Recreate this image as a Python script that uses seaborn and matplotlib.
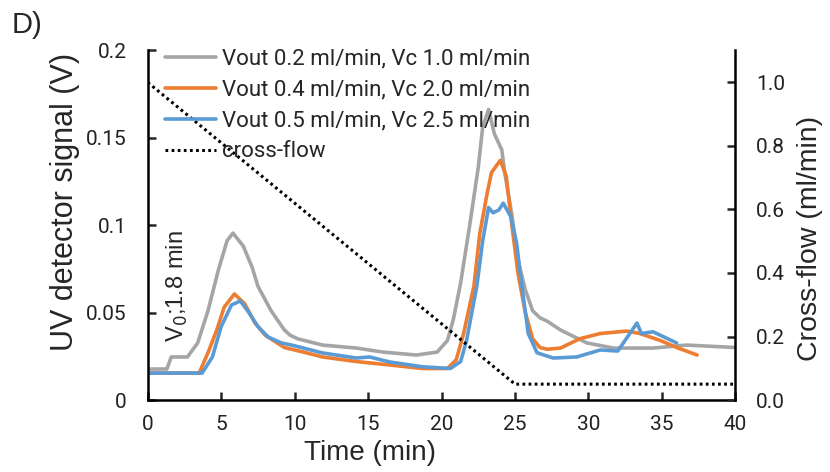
import matplotlib
matplotlib.use('Agg')
import matplotlib.pyplot as plt
from matplotlib import font_manager
import seaborn as sns

# UV traces (time in min, signal in V)
t_gray = [0, 1.3, 1.6, 2.7, 3.4, 4.1, 4.8, 5.4, 5.8, 6.5, 7.1, 7.5, 8.4, 9.3, 9.7, 10.2,
          11.9, 14.2, 16.0, 18.3, 19.7, 20.4, 20.8, 21.3, 21.9, 22.5, 22.8, 23.2, 23.6,
          24.1, 24.3, 24.8, 25.2, 25.7, 26.2, 26.7, 27.2, 28.1, 29.9, 31.7, 34.4, 36.7, 40]
v_gray = [0.0177, 0.0177, 0.0246, 0.0246, 0.0326, 0.051, 0.074, 0.091, 0.0954, 0.088,
          0.076, 0.065, 0.051, 0.040, 0.037, 0.035, 0.0314, 0.0297, 0.0274, 0.0257, 0.0274,
          0.034, 0.046, 0.067, 0.099, 0.133, 0.156, 0.166, 0.152, 0.143, 0.130, 0.105,
          0.080, 0.063, 0.051, 0.047, 0.045, 0.040, 0.0326, 0.0297, 0.0297, 0.0314, 0.030]

t_orange = [0, 3.5, 4.1, 4.7, 5.2, 5.9, 6.6, 7.3, 8.0, 9.3, 10.6, 11.9, 14.2, 16.5, 18.7,
            20.4, 21.0, 21.5, 22.2, 22.6, 23.1, 23.4, 24.0, 24.4, 24.8, 25.2, 25.7, 26.2,
            26.7, 27.2, 28.1, 29.4, 30.8, 32.6, 33.5, 34.9, 36.0, 37.4]
v_orange = [0.0154, 0.0154, 0.027, 0.040, 0.053, 0.0606, 0.055, 0.044, 0.037, 0.030,
            0.0274, 0.0246, 0.022, 0.020, 0.018, 0.018, 0.023, 0.038, 0.065, 0.095, 0.118,
            0.130, 0.137, 0.128, 0.099, 0.0726, 0.050, 0.035, 0.030, 0.029, 0.0297, 0.035,
            0.038, 0.0394, 0.038, 0.034, 0.030, 0.0257]

t_blue = [0, 3.7, 4.4, 5.0, 5.7, 6.3, 6.8, 7.5, 8.2, 9.1, 9.8, 10.6, 11.9, 14.2, 15.1,
          16.5, 18.7, 20.6, 21.3, 21.7, 22.4, 22.8, 23.2, 23.5, 23.9, 24.2, 24.7, 25.1,
          25.5, 25.9, 26.5, 27.6, 29.2, 30.8, 32.0, 33.3, 33.6, 34.4, 35.4, 36.0]
v_blue = [0.0154, 0.0154, 0.0246, 0.042, 0.0543, 0.0566, 0.051, 0.042, 0.036, 0.0326,
          0.0314, 0.0297, 0.0269, 0.024, 0.0246, 0.0217, 0.019, 0.018, 0.022, 0.034, 0.065,
          0.091, 0.110, 0.107, 0.1086, 0.1125, 0.105, 0.090, 0.063, 0.038, 0.027, 0.024,
          0.0246, 0.0286, 0.028, 0.044, 0.038, 0.039, 0.035, 0.0326]

# cross-flow program (ml/min)
t_cf = [0, 25, 40]
cf = [1.0, 0.05, 0.05]

labels = ['Vout 0.2 ml/min, Vc 1.0 ml/min',
          'Vout 0.4 ml/min, Vc 2.0 ml/min',
          'Vout 0.5 ml/min, Vc 2.5 ml/min',
          'cross-flow']
colors = ['#A5A5A5', '#ED7D31', '#5B9BD5']

sns.set_style('white')
plt.rcParams['font.family'] = ['Liberation Sans', 'DejaVu Sans']


def pick_font(names):
    for n in names:
        try:
            font_manager.findfont(n, fallback_to_default=False)
            return n
        except Exception:
            pass
    return 'Liberation Sans'


narrow = pick_font(['Liberation Sans Narrow', 'Roboto'])

fig, ax = plt.subplots(figsize=(8.3, 4.72), dpi=100)
fig.subplots_adjust(left=0.178, right=0.886, bottom=0.1525, top=0.894)
ax2 = ax.twinx()

for t, v, c, lab in zip([t_gray, t_orange, t_blue], [v_gray, v_orange, v_blue], colors, labels):
    sns.lineplot(x=t, y=v, ax=ax, color=c, lw=2.6, label=lab, legend=False)
sns.lineplot(x=t_cf, y=cf, ax=ax2, color='black', lw=2.2, ls=(0, (0.9, 1.1)),
             label=labels[3], legend=False)

ax.set_xlim(0, 40)
ax.set_ylim(0, 0.2)
ax2.set_ylim(0, 1.102)
ax.set_xticks(range(0, 41, 5))
ax.set_yticks([0, 0.05, 0.1, 0.15, 0.2])
ax.set_yticklabels(['0', '0.05', '0.1', '0.15', '0.2'])
ax2.set_yticks([0, 0.2, 0.4, 0.6, 0.8, 1.0])
ax2.set_yticklabels(['0.0', '0.2', '0.4', '0.6', '0.8', '1.0'])

for a in (ax, ax2):
    a.spines['top'].set_visible(False)
    for s in a.spines.values():
        s.set_linewidth(1.8)
        s.set_color('black')
    for lbl in a.get_xticklabels() + a.get_yticklabels():
        lbl.set_fontfamily(narrow)
        lbl.set_fontsize(15)
        lbl.set_color('#222222')
ax.spines['right'].set_visible(False)
ax2.spines['left'].set_visible(False)
ax2.spines['bottom'].set_visible(False)

ax.tick_params(axis='both', direction='in', length=6, width=1.8, left=True, bottom=True)
ax.tick_params(axis='y', pad=15)
ax.tick_params(axis='x', pad=11)
ax2.tick_params(axis='y', direction='in', length=6, width=1.8, right=True, pad=15)

ax.set_xlabel('Time (min)', fontsize=20)
ax.set_ylabel('UV detector signal (V)', fontsize=22)
ax2.set_ylabel('Cross-flow (ml/min)', fontsize=20.5)
ax.xaxis.set_label_coords(0.378, -0.115)
ax.yaxis.set_label_coords(-0.116, 0.566)
ax2.yaxis.set_label_coords(1.105, 0.463)

ax.text(2.0, 0.065, 'V$_0$;1.8 min', rotation=90, ha='center', va='center', fontsize=17)
fig.text(0.014, 0.93, 'D)', fontsize=21)

h1, l1 = ax.get_legend_handles_labels()
h2, l2 = ax2.get_legend_handles_labels()
leg = ax2.legend(h1 + h2, l1 + l2, loc='upper left', bbox_to_anchor=(0.03, 1.005),
                 frameon=False, prop={'family': narrow, 'size': 16},
                 handlelength=2.3, handletextpad=0.25, labelspacing=0.45,
                 borderpad=0, borderaxespad=0)

fig.savefig('out.png', dpi=100)
